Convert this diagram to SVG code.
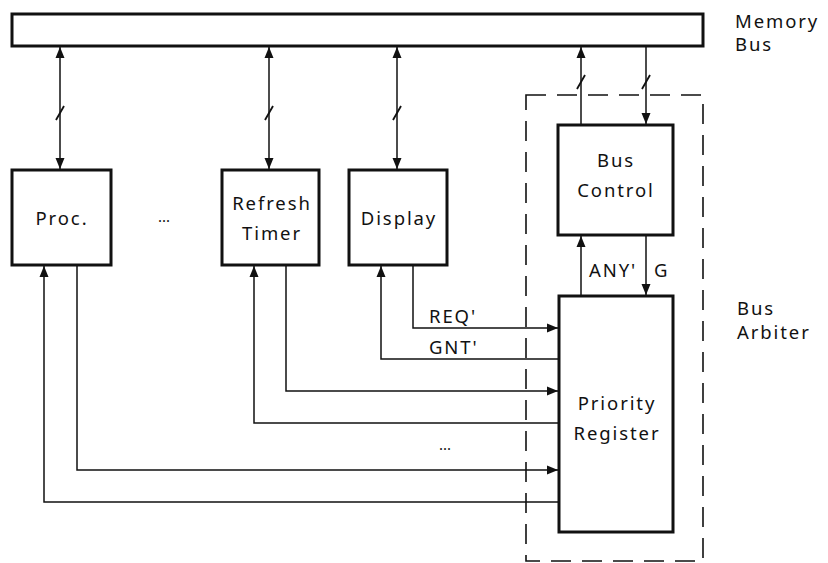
<svg xmlns="http://www.w3.org/2000/svg" width="828" height="563" viewBox="0 0 828 563">
<style>
.box{fill:#fff;stroke:#111;stroke-width:3}
.ln{fill:none;stroke:#111;stroke-width:1.5}
.sl{fill:none;stroke:#111;stroke-width:1.8}
.dash{fill:none;stroke:#111;stroke-width:1.6;stroke-dasharray:20 11}
text{font-family:"Noto Sans","Open Sans","DejaVu Sans",sans-serif;font-size:18.5px;fill:#111;letter-spacing:1.9px}
.c{text-anchor:middle}
</style>
<defs>
<marker id="ah" markerUnits="userSpaceOnUse" markerWidth="12" markerHeight="10" refX="11" refY="5" orient="auto-start-reverse">
<path d="M0,0.5 L11,5 L0,9.5 Z" fill="#111"/>
</marker>
</defs>
<rect x="526" y="95" width="177" height="466" class="dash"/>
<g id="connectors">
<line class="ln" x1="60" y1="47" x2="60" y2="169" marker-start="url(#ah)" marker-end="url(#ah)"/>
<line class="sl" x1="56" y1="120" x2="64" y2="106"/>
<line class="ln" x1="269" y1="47" x2="269" y2="169" marker-start="url(#ah)" marker-end="url(#ah)"/>
<line class="sl" x1="265" y1="120" x2="273" y2="106"/>
<line class="ln" x1="397" y1="47" x2="397" y2="169" marker-start="url(#ah)" marker-end="url(#ah)"/>
<line class="sl" x1="393" y1="120" x2="401" y2="106"/>
<line class="ln" x1="581" y1="124" x2="581" y2="47" marker-end="url(#ah)"/>
<line class="sl" x1="577" y1="89" x2="585" y2="75"/>
<line class="ln" x1="646" y1="47" x2="646" y2="124" marker-end="url(#ah)"/>
<line class="sl" x1="642" y1="89" x2="650" y2="75"/>
<line class="ln" x1="581" y1="295" x2="581" y2="236" marker-end="url(#ah)"/>
<line class="ln" x1="646" y1="236" x2="646" y2="295" marker-end="url(#ah)"/>
<polyline class="ln" points="413,266 413,328 558,328" marker-end="url(#ah)"/>
<polyline class="ln" points="558,359 381,359 381,266" marker-end="url(#ah)"/>
<polyline class="ln" points="286,266 286,391 558,391" marker-end="url(#ah)"/>
<polyline class="ln" points="558,423 254,423 254,266" marker-end="url(#ah)"/>
<polyline class="ln" points="77,266 77,470 558,470" marker-end="url(#ah)"/>
<polyline class="ln" points="558,502 44,502 44,266" marker-end="url(#ah)"/>
</g>
<g id="memory-bus">
<rect class="box" x="12" y="14" width="691" height="32"/>
<text x="735" y="28">Memory</text>
<text x="735" y="51">Bus</text>
</g>
<g id="proc">
<rect class="box" x="12" y="170" width="99" height="95"/>
<text class="c" x="62" y="225">Proc.</text>
</g>
<text class="c" x="164" y="222" style="font-size:15px;letter-spacing:0">...</text>
<g id="refresh-timer">
<rect class="box" x="222" y="170" width="97" height="95"/>
<text class="c" x="272" y="210">Refresh</text>
<text class="c" x="272" y="240">Timer</text>
</g>
<g id="display">
<rect class="box" x="349" y="170" width="98" height="95"/>
<text class="c" x="399" y="225">Display</text>
</g>
<g id="bus-control">
<rect class="box" x="558" y="125" width="115" height="110"/>
<text class="c" x="616" y="167">Bus</text>
<text class="c" x="616" y="197">Control</text>
</g>
<g id="priority-register">
<rect class="box" x="559" y="296" width="114" height="236"/>
<text class="c" x="617" y="410">Priority</text>
<text class="c" x="617" y="440">Register</text>
</g>
<g id="labels">
<text x="589" y="277">ANY'</text>
<text x="654" y="277">G</text>
<text x="429" y="323">REQ'</text>
<text x="429" y="354">GNT'</text>
<text class="c" x="445" y="450" style="font-size:15px;letter-spacing:0">...</text>
<text x="737" y="315">Bus</text>
<text x="737" y="339">Arbiter</text>
</g>
</svg>
